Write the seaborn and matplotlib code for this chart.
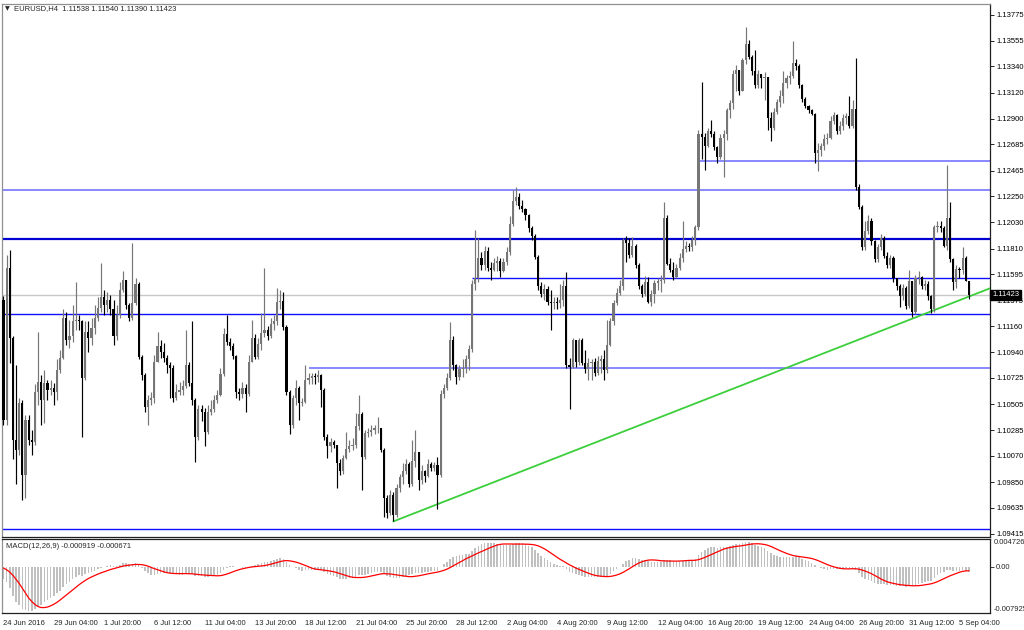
import numpy as np
import pandas as pd
import matplotlib
matplotlib.use("Agg")
import matplotlib.pyplot as plt
import matplotlib.transforms as mtransforms
import seaborn as sns

# EURUSD H4, bars counted from 24 Jun 2016 00:00 (first visible bar is #3)
first_bar = 3
first_open = 1.1138
closes = [
    1.1037, 1.1165, 1.1106, 1.1020, 1.1012, 1.1051, 1.0991, 1.1037, 1.1020, 1.1019,
    1.1061, 1.1069, 1.1054, 1.1068, 1.1062, 1.1064, 1.1061, 1.1079, 1.1089, 1.1123,
    1.1104, 1.1108, 1.1120, 1.1121, 1.1120, 1.1072, 1.1111, 1.1106, 1.1114, 1.1123,
    1.1131, 1.1140, 1.1134, 1.1138, 1.1130, 1.1108, 1.1125, 1.1146, 1.1155, 1.1134,
    1.1123, 1.1135, 1.1151, 1.1090, 1.1075, 1.1048, 1.1054, 1.1056, 1.1086, 1.1099,
    1.1094, 1.1089, 1.1083, 1.1081, 1.1056, 1.1061, 1.1062, 1.1066, 1.1083, 1.1068,
    1.1054, 1.1023, 1.1046, 1.1044, 1.1027, 1.1044, 1.1046, 1.1054, 1.1058, 1.1076,
    1.1109, 1.1103, 1.1099, 1.1091, 1.1061, 1.1059, 1.1064, 1.1059, 1.1086, 1.1106,
    1.1090, 1.1101, 1.1110, 1.1113, 1.1108, 1.1118, 1.1120, 1.1136, 1.1137, 1.1115,
    1.1061, 1.1033, 1.1056, 1.1064, 1.1051, 1.1052, 1.1071, 1.1072, 1.1074, 1.1073,
    1.1075, 1.1062, 1.1023, 1.1015, 1.1019, 1.1016, 1.1001, 1.0994, 1.1005, 1.1013,
    1.1015, 1.1016, 1.1032, 1.1042, 1.1006, 1.1026, 1.1027, 1.1029, 1.1030, 1.1030,
    1.1012, 1.0972, 1.0959, 1.0974, 1.0957, 1.0980, 1.0989, 1.0994, 1.1000, 1.0983,
    1.1003, 1.1010, 1.0987, 1.0994, 1.0990, 1.1000, 1.0997, 1.0999, 1.0991, 1.1059,
    1.1064, 1.1072, 1.1104, 1.1083, 1.1073, 1.1080, 1.1081, 1.1088, 1.1097, 1.1151,
    1.1156, 1.1173, 1.1167, 1.1179, 1.1165, 1.1163, 1.1169, 1.1171, 1.1162, 1.1170,
    1.1178, 1.1202, 1.1221, 1.1224, 1.1217, 1.1214, 1.1209, 1.1198, 1.1192, 1.1174,
    1.1150, 1.1143, 1.1147, 1.1136, 1.1135, 1.1136, 1.1135, 1.1138, 1.1150, 1.1083,
    1.1082, 1.1104, 1.1086, 1.1104, 1.1085, 1.1080, 1.1085, 1.1086, 1.1077, 1.1087,
    1.1088, 1.1079, 1.1100, 1.1120, 1.1135, 1.1144, 1.1150, 1.1188, 1.1186, 1.1176,
    1.1183, 1.1167, 1.1150, 1.1143, 1.1153, 1.1136, 1.1143, 1.1152, 1.1154, 1.1155,
    1.1207, 1.1168, 1.1163, 1.1157, 1.1165, 1.1173, 1.1181, 1.1183, 1.1182, 1.1188,
    1.1199, 1.1277, 1.1275, 1.1267, 1.1280, 1.1277, 1.1266, 1.1258, 1.1274, 1.1277,
    1.1297, 1.1303, 1.1328, 1.1331, 1.1313, 1.1339, 1.1353, 1.1342, 1.1330, 1.1318,
    1.1328, 1.1324, 1.1325, 1.1291, 1.1282, 1.1296, 1.1304, 1.1309, 1.1320, 1.1324,
    1.1326, 1.1337, 1.1334, 1.1318, 1.1307, 1.1301, 1.1297, 1.1294, 1.1261, 1.1264,
    1.1267, 1.1273, 1.1274, 1.1288, 1.1293, 1.1280, 1.1284, 1.1291, 1.1292, 1.1284,
    1.1298, 1.1233, 1.1216, 1.1182, 1.1196, 1.1204, 1.1187, 1.1172, 1.1182, 1.1190,
    1.1175, 1.1167, 1.1173, 1.1156, 1.1150, 1.1141, 1.1148, 1.1133, 1.1154, 1.1128,
    1.1156, 1.1157, 1.1150, 1.1151, 1.1141, 1.1130, 1.1199, 1.1200, 1.1198, 1.1183,
    1.1207, 1.1172, 1.1153, 1.1164, 1.1163, 1.1173, 1.11538, 1.11423,
]
highs = [
    1.1141, 1.1176, 1.1180, 1.1108, 1.1083, 1.1056, 1.1054, 1.1041, 1.1041, 1.1029,
    1.1067, 1.1111, 1.1075, 1.1079, 1.1071, 1.1071, 1.1068, 1.1088, 1.1096, 1.1130,
    1.1128, 1.1121, 1.1134, 1.1153, 1.1125, 1.1121, 1.1120, 1.1120, 1.1123, 1.1134,
    1.1140, 1.1169, 1.1146, 1.1145, 1.1142, 1.1138, 1.1134, 1.1153, 1.1162, 1.1155,
    1.1135, 1.1186, 1.1156, 1.1153, 1.1092, 1.1077, 1.1058, 1.1061, 1.1092, 1.1111,
    1.1104, 1.1102, 1.1092, 1.1086, 1.1083, 1.1067, 1.1069, 1.1071, 1.1113, 1.1086,
    1.1120, 1.1056, 1.1050, 1.1050, 1.1047, 1.1050, 1.1054, 1.1058, 1.1062, 1.1081,
    1.1114, 1.1125, 1.1106, 1.1102, 1.1092, 1.1064, 1.1069, 1.1067, 1.1092, 1.1121,
    1.1109, 1.1106, 1.1127, 1.1165, 1.1116, 1.1123, 1.1125, 1.1148, 1.1146, 1.1145,
    1.1117, 1.1062, 1.1058, 1.1071, 1.1066, 1.1056, 1.1083, 1.1077, 1.1077, 1.1077,
    1.1079, 1.1076, 1.1064, 1.1025, 1.1022, 1.1020, 1.1016, 1.1004, 1.1008, 1.1027,
    1.1020, 1.1022, 1.1043, 1.1058, 1.1044, 1.1029, 1.1030, 1.1033, 1.1033, 1.1040,
    1.1030, 1.1014, 1.0974, 1.0978, 1.0977, 1.0983, 1.0992, 1.1001, 1.1004, 1.1002,
    1.1020, 1.1029, 1.1010, 1.0999, 1.0995, 1.1004, 1.1002, 1.1002, 1.1006, 1.1062,
    1.1067, 1.1077, 1.1119, 1.1108, 1.1084, 1.1083, 1.1088, 1.1092, 1.1100, 1.1155,
    1.1197, 1.1190, 1.1178, 1.1183, 1.1182, 1.1170, 1.1173, 1.1175, 1.1173, 1.1173,
    1.1182, 1.1208, 1.1230, 1.1233, 1.1228, 1.1222, 1.1215, 1.1210, 1.1200, 1.1193,
    1.1176, 1.1153, 1.1151, 1.1150, 1.1146, 1.1140, 1.1140, 1.1151, 1.1155, 1.1161,
    1.1089, 1.1106, 1.1104, 1.1106, 1.1106, 1.1096, 1.1089, 1.1088, 1.1089, 1.1091,
    1.1092, 1.1096, 1.1121, 1.1123, 1.1138, 1.1148, 1.1155, 1.1190, 1.1192, 1.1190,
    1.1191, 1.1185, 1.1169, 1.1151, 1.1158, 1.1157, 1.1146, 1.1155, 1.1156, 1.1159,
    1.1220, 1.1209, 1.1173, 1.1170, 1.1168, 1.1177, 1.1204, 1.1187, 1.1186, 1.1192,
    1.1201, 1.1281, 1.1321, 1.1278, 1.1282, 1.1289, 1.1280, 1.1267, 1.1277, 1.1281,
    1.1299, 1.1306, 1.1331, 1.1335, 1.1331, 1.1341, 1.1367, 1.1356, 1.1344, 1.1348,
    1.1331, 1.1327, 1.1329, 1.1324, 1.1296, 1.1299, 1.1307, 1.1314, 1.1330, 1.1327,
    1.1330, 1.1355, 1.1340, 1.1336, 1.1319, 1.1308, 1.1302, 1.1298, 1.1295, 1.1270,
    1.1270, 1.1277, 1.1278, 1.1292, 1.1296, 1.1294, 1.1288, 1.1294, 1.1295, 1.1309,
    1.1306, 1.1341, 1.1235, 1.1218, 1.1204, 1.1209, 1.1207, 1.1188, 1.1185, 1.1193,
    1.1192, 1.1178, 1.1176, 1.1175, 1.1156, 1.1151, 1.1151, 1.1150, 1.1163, 1.1146,
    1.1159, 1.1162, 1.1158, 1.1155, 1.1154, 1.1142, 1.1201, 1.1204, 1.1204, 1.1200,
    1.1251, 1.1220, 1.1173, 1.1167, 1.1166, 1.1182, 1.1175, 1.11540,
]
lows = [
    1.1033, 1.1033, 1.1085, 1.1004, 1.0983, 1.1008, 1.0970, 1.0972, 1.1016, 1.1008,
    1.1016, 1.1050, 1.1033, 1.1035, 1.1054, 1.1058, 1.1050, 1.1054, 1.1077, 1.1088,
    1.1100, 1.1098, 1.1103, 1.1113, 1.1113, 1.1023, 1.1071, 1.1094, 1.1100, 1.1109,
    1.1120, 1.1128, 1.1125, 1.1128, 1.1125, 1.1100, 1.1104, 1.1123, 1.1145, 1.1130,
    1.1120, 1.1121, 1.1134, 1.1088, 1.1071, 1.1044, 1.1033, 1.1050, 1.1051, 1.1086,
    1.1089, 1.1086, 1.1077, 1.1056, 1.1052, 1.1054, 1.1058, 1.1058, 1.1064, 1.1066,
    1.1050, 1.1002, 1.1020, 1.1036, 1.1015, 1.1025, 1.1041, 1.1044, 1.1051, 1.1057,
    1.1074, 1.1100, 1.1096, 1.1088, 1.1056, 1.1054, 1.1056, 1.1044, 1.1057, 1.1086,
    1.1088, 1.1088, 1.1096, 1.1107, 1.1104, 1.1106, 1.1113, 1.1117, 1.1130, 1.1113,
    1.1058, 1.1025, 1.1030, 1.1050, 1.1037, 1.1049, 1.1051, 1.1067, 1.1067, 1.1067,
    1.1069, 1.1048, 1.1020, 1.1005, 1.1010, 1.1014, 1.0980, 1.0991, 1.0992, 1.1004,
    1.1010, 1.1012, 1.1014, 1.1029, 1.0978, 1.1004, 1.1023, 1.1024, 1.1025, 1.1026,
    1.1010, 1.0956, 1.0955, 1.0957, 1.0952, 1.0956, 1.0977, 1.0983, 1.0992, 1.0981,
    1.0982, 1.0998, 1.0978, 1.0983, 1.0985, 1.0989, 1.0994, 1.0994, 1.0962, 1.0989,
    1.1056, 1.1062, 1.1071, 1.1079, 1.1067, 1.1071, 1.1073, 1.1077, 1.1079, 1.1094,
    1.1146, 1.1153, 1.1163, 1.1163, 1.1162, 1.1155, 1.1162, 1.1162, 1.1157, 1.1161,
    1.1167, 1.1176, 1.1200, 1.1218, 1.1214, 1.1212, 1.1205, 1.1195, 1.1188, 1.1172,
    1.1146, 1.1140, 1.1138, 1.1134, 1.1113, 1.1130, 1.1130, 1.1131, 1.1133, 1.1081,
    1.1046, 1.1081, 1.1082, 1.1083, 1.1083, 1.1077, 1.1071, 1.1071, 1.1074, 1.1075,
    1.1077, 1.1071, 1.1077, 1.1099, 1.1117, 1.1134, 1.1142, 1.1146, 1.1170, 1.1173,
    1.1174, 1.1165, 1.1147, 1.1140, 1.1141, 1.1135, 1.1133, 1.1135, 1.1146, 1.1145,
    1.1152, 1.1167, 1.1161, 1.1155, 1.1156, 1.1163, 1.1170, 1.1178, 1.1179, 1.1179,
    1.1184, 1.1197, 1.1256, 1.1247, 1.1266, 1.1275, 1.1264, 1.1253, 1.1256, 1.1241,
    1.1272, 1.1291, 1.1298, 1.1313, 1.1310, 1.1313, 1.1336, 1.1340, 1.1327, 1.1316,
    1.1316, 1.1316, 1.1306, 1.1281, 1.1271, 1.1281, 1.1294, 1.1300, 1.1303, 1.1316,
    1.1319, 1.1324, 1.1331, 1.1316, 1.1304, 1.1299, 1.1295, 1.1293, 1.1253, 1.1246,
    1.1259, 1.1264, 1.1269, 1.1273, 1.1286, 1.1277, 1.1277, 1.1281, 1.1286, 1.1282,
    1.1282, 1.1230, 1.1214, 1.1180, 1.1180, 1.1193, 1.1184, 1.1170, 1.1170, 1.1180,
    1.1173, 1.1165, 1.1165, 1.1153, 1.1146, 1.1132, 1.1138, 1.1130, 1.1131, 1.1124,
    1.1126, 1.1151, 1.1147, 1.1146, 1.1138, 1.1127, 1.1128, 1.1195, 1.1195, 1.1182,
    1.1180, 1.1170, 1.1146, 1.1148, 1.1156, 1.1160, 1.1154, 1.11390,
]

# level the MACD's EMAs start from (before the first bar)
ema_seed = 1.1300

price_ticks = [1.13775, 1.13555, 1.13340, 1.13120, 1.12900, 1.12685, 1.12465,
               1.12250, 1.12030, 1.11810, 1.11595, 1.11375, 1.11160, 1.10940,
               1.10725, 1.10505, 1.10285, 1.10070, 1.09850, 1.09635, 1.09415]

level_prices = [1.1255, 1.1230, 1.1189, 1.1156, 1.1126, 1.1081, 1.0946]
level_start_bar = [224, 0, 0, 152, 0, 100, 0]
level_colors = ["#7f7fff", "#7f7fff", "#0000d0", "#1010ff", "#1010ff", "#6a6aff", "#1010ff"]
level_widths = [1.3, 1.3, 1.6, 1.0, 1.0, 1.1, 1.0]

trend_bars = [127, 317]
trend_prices = [1.0952, 1.1148]

time_ticks = [19, 35, 51, 67, 83, 99, 115, 131, 147, 163, 179, 195, 211, 227,
              243, 259, 275, 291, 307]
time_labels = ["29 Jun 04:00", "1 Jul 20:00", "6 Jul 12:00", "11 Jul 04:00",
               "13 Jul 20:00", "18 Jul 12:00", "21 Jul 04:00", "25 Jul 20:00",
               "28 Jul 12:00", "2 Aug 04:00", "4 Aug 20:00", "9 Aug 12:00",
               "12 Aug 04:00", "16 Aug 20:00", "19 Aug 12:00", "24 Aug 04:00",
               "26 Aug 20:00", "31 Aug 12:00", "5 Sep 04:00"]

macd_top, macd_bottom = 0.004726, -0.007925

sns.set_style("white")
plt.rcParams["font.family"] = ["Liberation Sans", "DejaVu Sans"]
fs = 5.5

closes = np.array(closes)
opens = np.r_[first_open, closes[:-1]]
highs = np.maximum(np.array(highs), np.maximum(opens, closes))
lows = np.minimum(np.array(lows), np.minimum(opens, closes))
bars = np.arange(first_bar, first_bar + len(closes))
up = closes >= opens

# MACD(12,26,9): EMA difference, signal = SMA(9) of it
s = pd.Series(np.r_[ema_seed, closes])
macd = (s.ewm(span=12, adjust=False).mean() - s.ewm(span=26, adjust=False).mean()).to_numpy()[1:]
signal = pd.Series(np.r_[np.zeros(8), macd]).rolling(9).mean().to_numpy()[8:]

W, H = 1024, 630
fig = plt.figure(figsize=(W / 100, H / 100), dpi=100)
ax = fig.add_axes([2 / W, 1 - 537 / H, 988 / W, 533 / H])
ax2 = fig.add_axes([2 / W, 1 - 613 / H, 988 / W, 74 / H])
xlim = (2.54, 316.7)

# horizontal levels, bid line, trend line
ax.axhline(closes[-1], color="#c8c8c8", lw=1.0, zorder=1)
for p, b, c, w in zip(level_prices, level_start_bar, level_colors, level_widths):
    ax.hlines(p, max(b, xlim[0]), xlim[1], colors=c, lw=w, zorder=2)
sns.lineplot(x=trend_bars, y=trend_prices, ax=ax, color="#3ccf3c", lw=1.3, zorder=3)

# candles
bull_c, bear_c = "#767676", "#000000"
ax.vlines(bars[up], lows[up], highs[up], colors=bull_c, lw=0.85, zorder=4)
ax.vlines(bars[~up], lows[~up], highs[~up], colors=bear_c, lw=0.85, zorder=4)
body_lo = np.minimum(opens, closes)
body_h = np.maximum(np.abs(closes - opens), 0.00003)
ax.bar(bars[up], body_h[up], bottom=body_lo[up], width=0.68, color=bull_c, lw=0, zorder=5)
ax.bar(bars[~up], body_h[~up], bottom=body_lo[~up], width=0.68, color=bear_c, lw=0, zorder=5)

ax.set_xlim(*xlim)
ax.set_ylim(1.09389, 1.13864)
ax.set_xticks([])
ax.yaxis.tick_right()
ax.set_yticks(price_ticks)
ax.set_yticklabels([f"{p:.5f}" for p in price_ticks])
ax.tick_params(axis="y", direction="out", length=3, width=0.6, pad=1.5, labelsize=fs, colors="black")
ax.set_xlabel("")
ax.set_ylabel("")

# current price box
blend = mtransforms.blended_transform_factory(ax.transAxes, ax.transData)
ax.text(1.002, closes[-1], f"{closes[-1]:.5f}", transform=blend, ha="left", va="center",
        fontsize=fs, color="white", zorder=10, clip_on=False,
        bbox=dict(boxstyle="square,pad=0.2", fc="black", ec="black"))

# MACD panel
sns.barplot(x=bars, y=macd, native_scale=True, ax=ax2, color="#c0c0c0", saturation=1,
            width=0.5, linewidth=0, errorbar=None)
sns.lineplot(x=bars, y=signal, ax=ax2, color="#ff0000", lw=0.9)
ax2.set_xlim(*xlim)
ax2.set_ylim(macd_bottom, macd_top)
ax2.yaxis.tick_right()
ax2.set_yticks([0.0])
ax2.set_yticklabels(["0.00"])
ax2.tick_params(axis="y", direction="out", length=3, width=0.6, pad=1.5, labelsize=fs)
blend2 = mtransforms.blended_transform_factory(ax2.transAxes, ax2.transData)
ax2.text(1.004, macd_top, f"{macd_top:.6f}", transform=blend2, ha="left", va="top", fontsize=fs)
ax2.text(1.004, macd_bottom, f"{macd_bottom:.6f}", transform=blend2, ha="left", va="bottom",
         fontsize=fs)
ax2.set_xticks([xlim[0] + 0.3] + time_ticks)
ax2.set_xticklabels(["24 Jun 2016"] + time_labels)
for lab in ax2.get_xticklabels():
    lab.set_horizontalalignment("left")
ax2.tick_params(axis="x", direction="out", length=3, width=0.6, pad=2, labelsize=fs)
ax2.set_xlabel("")
ax2.set_ylabel("")

for a in (ax, ax2):
    for side, sp in a.spines.items():
        sp.set_visible(True)
        sp.set_linewidth(0.9)
        sp.set_color("#909090" if side == "left" else "#202020")
ax.spines["top"].set_color("#909090")

# headers
fig.text(5 / W, 1 - 9 / H, "\u25bc", fontsize=4.5, va="center", ha="left", family="DejaVu Sans")
fig.text(14 / W, 1 - 9 / H, "EURUSD,H4  1.11538 1.11540 1.11390 1.11423", fontsize=fs,
         va="center", ha="left")
fig.text(6 / W, 1 - 546 / H, "MACD(12,26,9) -0.000919 -0.000671", fontsize=fs,
         va="center", ha="left")

fig.savefig("out.png", dpi=100, facecolor="white")
